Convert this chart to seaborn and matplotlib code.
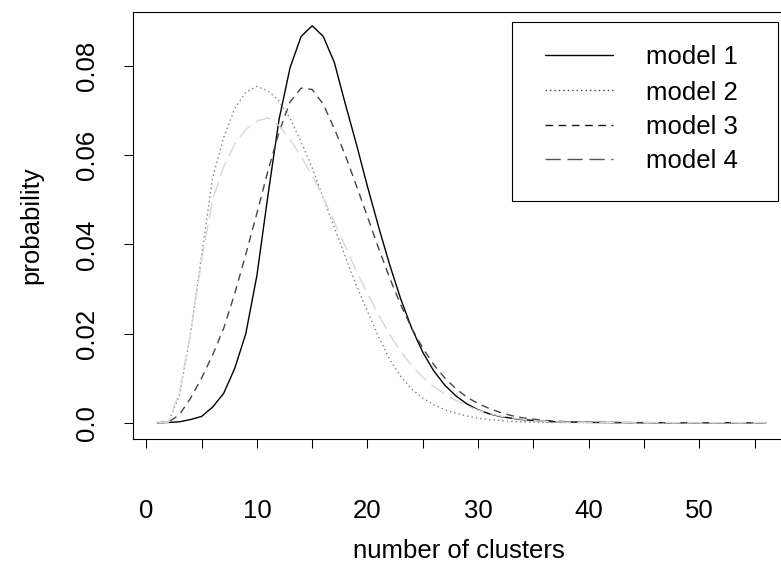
import matplotlib
matplotlib.use("Agg")
import matplotlib.pyplot as plt
from matplotlib.lines import Line2D
from matplotlib.patches import Rectangle
import pandas as pd
import seaborn as sns

# number of clusters on the x axis
clusters = list(range(1, 57))

# probability of each cluster count under the four models
model1 = [0.0, 0.00005, 0.0002, 0.0007, 0.0014, 0.0035, 0.0066, 0.0122, 0.0200, 0.0330,
          0.0510, 0.0680, 0.0797, 0.0867, 0.0891, 0.0867, 0.0809, 0.0715, 0.0625, 0.0530,
          0.0440, 0.0355, 0.0278, 0.0212, 0.0158, 0.0116, 0.0084, 0.0060, 0.0042, 0.0029,
          0.0020, 0.0014, 0.0010, 0.0007, 0.0005, 0.0003, 0.0002, 0.00015, 0.0001, 0.00007,
          0.00005, 0.00003, 0.00002, 0.00001, 0.00001, 0.0, 0.0, 0.0, 0.0, 0.0,
          0.0, 0.0, 0.0, 0.0, 0.0, 0.0]
model2 = [0.0, 0.0001, 0.0062, 0.0200, 0.0375, 0.0550, 0.0640, 0.0705, 0.0742, 0.0755,
          0.0745, 0.0722, 0.0683, 0.0630, 0.0572, 0.0505, 0.0438, 0.0372, 0.0308, 0.0250,
          0.0193, 0.0142, 0.0104, 0.0075, 0.0055, 0.0040, 0.0029, 0.0021, 0.0015, 0.0010,
          0.0007, 0.0005, 0.0003, 0.0002, 0.00013, 0.00008, 0.00005, 0.00003, 0.00002, 0.00001,
          0.00001, 0.0, 0.0, 0.0, 0.0, 0.0, 0.0, 0.0, 0.0, 0.0,
          0.0, 0.0, 0.0, 0.0, 0.0, 0.0]
model3 = [0.0, 0.0001, 0.0018, 0.0055, 0.0100, 0.0152, 0.0212, 0.0290, 0.0378, 0.0470,
          0.0565, 0.0652, 0.0720, 0.0751, 0.0748, 0.0715, 0.0660, 0.0600, 0.0532, 0.0462,
          0.0392, 0.0325, 0.0265, 0.0212, 0.0167, 0.0130, 0.0100, 0.0076, 0.0057, 0.0043,
          0.0032, 0.0023, 0.0016, 0.0011, 0.0008, 0.0005, 0.00035, 0.00023, 0.00015, 0.0001,
          0.00007, 0.00005, 0.00003, 0.00002, 0.00001, 0.00001, 0.0, 0.0, 0.0, 0.0,
          0.0, 0.0, 0.0, 0.0, 0.0, 0.0]
model4 = [0.0, 0.0001, 0.0070, 0.0200, 0.0365, 0.0500, 0.0575, 0.0625, 0.0658, 0.0677,
          0.0684, 0.0667, 0.0636, 0.0597, 0.0555, 0.0505, 0.0450, 0.0395, 0.0340, 0.0290,
          0.0242, 0.0198, 0.0160, 0.0128, 0.0102, 0.0081, 0.0064, 0.0050, 0.0038, 0.0028,
          0.0021, 0.0015, 0.0011, 0.0008, 0.0005, 0.0003, 0.0002, 0.00012, 0.00008, 0.00005,
          0.00003, 0.00002, 0.00001, 0.00001, 0.0, 0.0, 0.0, 0.0, 0.0, 0.0,
          0.0, 0.0, 0.0, 0.0, 0.0, 0.0]

model_names = ["model 1", "model 2", "model 3", "model 4"]
x_ticks = [0, 5, 10, 15, 20, 25, 30, 35, 40, 45, 50, 55]
x_tick_labels = ["0", "", "10", "", "20", "", "30", "", "40", "", "50", ""]
y_ticks = [0.0, 0.02, 0.04, 0.06, 0.08]
y_tick_labels = ["0.0", "0.02", "0.04", "0.06", "0.08"]

df = pd.concat(
    [pd.DataFrame({"clusters": clusters, "probability": vals, "model": name})
     for name, vals in zip(model_names, [model1, model2, model3, model4])],
    ignore_index=True,
)

sns.set_style("white")
plt.rcParams["font.family"] = ["Liberation Sans", "DejaVu Sans"]

W, H = 781, 567
fig = plt.figure(figsize=(W / 100, H / 100), dpi=100)


def fx(px):
    return px / W


def fy(py):
    return 1 - py / H


# plot box edges in pixels (the right edge runs past the canvas)
left, right, top, bottom = 133, 790, 11.5, 438.5
ax = fig.add_axes([fx(left), fy(bottom), fx(right) - fx(left), fy(top) - fy(bottom)])

line_colors = {"model 1": "#000000", "model 2": "#808080",
               "model 3": "#454545", "model 4": "#d8d8d8"}
line_dashes = {"model 1": "", "model 2": (1.0, 2.2),
               "model 3": (5.5, 4.0), "model 4": (11.0, 4.8)}

sns.lineplot(data=df, x="clusters", y="probability", hue="model", style="model",
             palette=line_colors, dashes=line_dashes, linewidth=1.0,
             legend=False, sort=False, ax=ax)

ax.set_xlim(-1.2, 58.2)
ax.set_ylim(-0.00355, 0.0923)

fs = 18.5
ax.set_xticks(x_ticks)
ax.set_xticklabels(x_tick_labels, fontsize=fs)
ax.set_yticks(y_ticks)
ax.set_yticklabels(y_tick_labels, fontsize=fs, rotation=90, va="center")
ax.tick_params(axis="both", direction="out", length=6.5, width=0.75,
               color="black", labelcolor="black")
ax.tick_params(axis="x", pad=37, bottom=True)
ax.tick_params(axis="y", pad=18, left=True)

for s in ax.spines.values():
    s.set_color("black")
    s.set_linewidth(0.8)

ax.set_xlabel("number of clusters", fontsize=fs, va="center", ha="center", color="black")
ax.set_ylabel("probability", fontsize=fs, va="center", ha="center", rotation=90,
              color="black")
ax.xaxis.set_label_coords(fx(459), fy(551), transform=fig.transFigure)
ax.yaxis.set_label_coords(fx(31), fy((top + bottom) / 2), transform=fig.transFigure)

# legend panel
fig.add_artist(Rectangle((fx(511.7), fy(200.7)), fx(777.7) - fx(511.7), fy(22.3) - fy(200.7),
                         transform=fig.transFigure, facecolor="white",
                         edgecolor="black", linewidth=0.8, zorder=5))
legend_colors = ["#000000", "#444444", "#1a1a1a", "#555555"]
row_y = [55, 90, 124.5, 159]
for name, col, ry in zip(model_names, legend_colors, row_y):
    ls = "-" if line_dashes[name] == "" else (0, line_dashes[name])
    fig.add_artist(Line2D([fx(545), fx(613.3)], [fy(ry), fy(ry)], transform=fig.transFigure,
                          color=col, linewidth=1.0, linestyle=ls, zorder=6))
    fig.text(fx(646.5), fy(ry), name, fontsize=fs, ha="left", va="center_baseline",
             color="black", zorder=6)

fig.savefig("out.png", dpi=100)
